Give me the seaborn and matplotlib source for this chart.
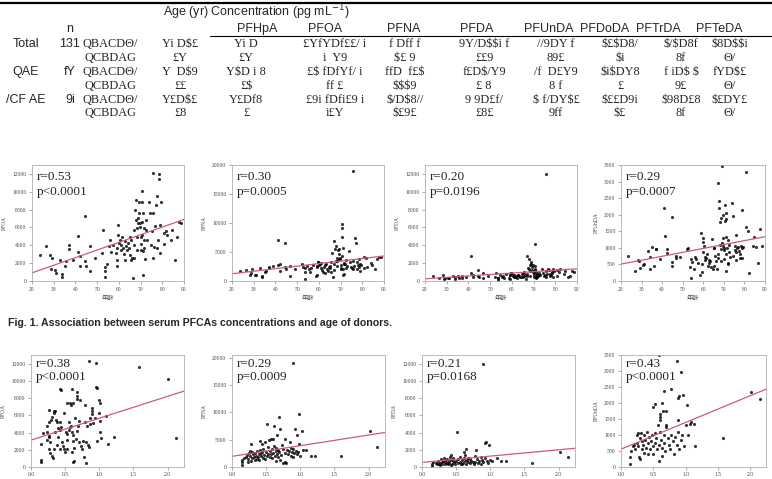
import matplotlib
matplotlib.use("Agg")
import matplotlib.pyplot as plt
import pandas as pd
import seaborn as sns
from matplotlib import font_manager

# ---- donors: age (yr) and serum PFCAs (pg/mL), top row of panels
age = [23.5, 26.6, 28.5, 29.0, 28.8, 30.8, 31.0, 33.0, 34.0, 34.0,
       35.0, 35.8, 37.0, 37.0, 39.0, 41.0, 41.2, 42.3, 42.3, 44.6,
       44.6, 44.8, 46.6, 46.6, 48.8, 52.3, 52.8, 53.4, 53.8, 53.8,
       54.6, 55.5, 55.8, 56.5, 57.4, 58.5, 59.0, 59.2, 59.2, 59.7,
       59.7, 60.0, 60.5, 60.8, 61.0, 61.5, 62.0, 62.3, 62.6, 63.0,
       63.4, 63.8, 64.3, 64.6, 65.0, 65.0, 65.4, 65.7, 66.2, 66.6,
       67.0, 67.0, 67.2, 67.4, 67.7, 68.0, 68.2, 68.5, 68.5, 68.8,
       69.0, 69.2, 69.4, 69.7, 69.7, 70.0, 70.0, 70.3, 70.5, 70.6,
       70.8, 70.8, 71.0, 71.2, 71.2, 71.5, 71.8, 71.8, 72.0, 72.5,
       72.5, 73.0, 73.8, 74.3, 74.6, 75.4, 75.5, 75.8, 75.8, 76.0,
       76.5, 77.0, 77.4, 77.7, 78.0, 78.5, 78.6, 78.9, 78.9, 79.5,
       80.8, 81.0, 81.5, 82.0, 84.0, 84.6, 85.7, 86.6, 87.7, 88.5]
pfoa = [2900, 3900, 2900, 2600, 1300, 1200, 950, 2400, 800, 450,
        1650, 2250, 4000, 3550, 2400, 5050, 3300, 2800, 1650, 7300,
        2200, 1650, 3900, 1100, 2600, 3150, 5700, 1600, 450, 1100,
        1950, 3900, 4650, 3250, 4000, 3100, 3750, 2350, 1650, 5150,
        6300, 4300, 4650, 3450, 4000, 4950, 3750, 3000, 2400, 4500,
        3900, 3450, 4300, 3750, 4950, 2950, 2400, 4600, 2600, 380,
        5700, 4000, 2600, 8000, 9100, 6850, 5900, 4900, 3450, 7050,
        6450, 7650, 8800, 6100, 6550, 4950, 4200, 3450, 6650, 10050,
        8900, 5150, 3400, 7650, 650, 4600, 5900, 3650, 2500, 6850,
        5700, 4650, 8800, 7650, 4000, 5650, 12050, 7600, 2600, 3850,
        6150, 8550, 9500, 3750, 4650, 12000, 11450, 6300, 3150, 8900,
        5350, 4100, 5550, 5150, 4600, 5700, 2400, 4950, 6650, 6550]
pfna = [1700, 1900, 1000, 2100, 1300, 1000, 1100, 2300, 700, 900,
        1500, 1800, 2200, 2400, 2600, 7000, 2700, 3000, 1700, 6550,
        2400, 2100, 2600, 900, 2000, 2900, 2500, 1500, 400, 2300,
        2600, 2100, 1600, 2200, 2700, 900, 2400, 1100, 2600, 3200,
        3300, 2700, 2900, 3100, 2200, 1900, 1600, 2400, 1400, 2800,
        3000, 2100, 1800, 2500, 2600, 2200, 1500, 3300, 4800, 700,
        6850, 2900, 1900, 5600, 6100, 3500, 4000, 3400, 2600, 5400,
        3600, 4700, 5600, 3900, 3800, 2200, 2700, 2000, 7600, 9750,
        9200, 4300, 2100, 5650, 1000, 3100, 2900, 1200, 3000, 3600,
        2300, 2600, 5100, 3200, 2500, 2200, 18950, 3500, 2000, 2600,
        7450, 6550, 3200, 2100, 2800, 3800, 2500, 3000, 1800, 2700,
        4100, 2300, 4000, 2400, 3100, 2700, 2000, 3800, 4100, 4200]
pfda = [600, 350, 700, 300, 250, 350, 300, 550, 200, 400,
        550, 350, 600, 350, 450, 2800, 900, 450, 650, 550,
        1250, 450, 850, 300, 600, 500, 950, 350, 150, 300,
        700, 400, 550, 350, 750, 300, 650, 250, 700, 850,
        900, 800, 600, 700, 500, 450, 550, 300, 650, 700,
        550, 400, 500, 750, 900, 450, 550, 1000, 650, 200,
        2850, 550, 800, 1500, 1300, 2450, 1800, 1100, 600, 1900,
        2100, 1600, 1200, 1800, 1000, 700, 900, 500, 1400, 4150,
        1700, 1200, 450, 1000, 300, 700, 800, 400, 600, 900,
        700, 650, 1300, 900, 600, 700, 12000, 1100, 500, 800,
        1400, 1200, 800, 550, 700, 1000, 900, 1300, 500, 1100,
        1200, 600, 1000, 1300, 800, 1100, 500, 600, 1100, 1000]
pfunda = [750, 300, 620, 400, 600, 480, 520, 900, 350, 720,
          1030, 450, 970, 980, 650, 2200, 1370, 850, 970, 1930,
          450, 580, 680, 750, 730, 960, 1000, 420, 100, 650,
          560, 350, 720, 650, 540, 190, 1450, 280, 500, 1300,
          1180, 880, 1050, 720, 620, 700, 820, 460, 640, 550,
          600, 420, 1280, 370, 990, 460, 1000, 760, 590, 350,
          2950, 810, 700, 2200, 2410, 1770, 1100, 980, 600, 1900,
          3470, 1150, 1300, 2000, 1050, 1000, 950, 650, 1800, 2300,
          1860, 1340, 800, 2060, 300, 1000, 1230, 500, 550, 1100,
          880, 720, 2360, 1960, 750, 950, 1050, 1380, 880, 640,
          1000, 1040, 900, 680, 800, 1050, 1000, 2130, 700, 1020,
          3300, 1620, 1510, 250, 1060, 1320, 1020, 540, 1570, 1050]

# ---- bottom row: (x, concentration) pairs
pfoa_pairs = [(0.85, 12280), (0.95, 12090), (1.58, 11630), (2.0, 10260), (2.13, 3350),
              (0.43, 9050), (0.44, 8900), (0.6, 9090), (0.68, 8670), (0.95, 9280), (0.96, 9160),
              (1.01, 7380), (0.99, 7760), (0.68, 8210), (0.68, 7900), (0.72, 7760), (0.79, 7150),
              (0.62, 7450), (0.57, 7380), (0.58, 7150), (0.52, 7450), (0.89, 6850), (0.9, 6500),
              (0.89, 6200), (0.87, 5740), (0.94, 5740), (0.91, 5100), (0.87, 4940), (0.79, 5170),
              (0.82, 4710), (1.0, 6310), (1.1, 5930), (1.01, 5360), (1.01, 4100), (1.03, 3350),
              (0.97, 2970), (1.21, 3460), (1.13, 2700), (0.76, 2970), (0.8, 2890), (0.83, 2590),
              (0.85, 2280), (0.77, 1180), (0.81, 420), (0.14, 2700), (0.14, 800), (0.14, 530),
              (0.17, 3950), (0.23, 4030), (0.27, 6620), (0.33, 6500), (0.35, 6500), (0.34, 6240),
              (0.31, 5860), (0.29, 5480), (0.27, 5170), (0.23, 4710), (0.26, 3570), (0.27, 3460),
              (0.23, 3080), (0.28, 2890), (0.27, 2050), (0.28, 1670), (0.31, 1290), (0.32, 1060),
              (0.34, 2130), (0.35, 4100), (0.39, 3460), (0.4, 4490), (0.43, 5170), (0.44, 4600),
              (0.45, 2890), (0.47, 2430), (0.48, 2130), (0.5, 1750), (0.52, 2130), (0.52, 3190),
              (0.53, 3840), (0.51, 4100), (0.55, 4330), (0.57, 4600), (0.55, 5170), (0.58, 4790),
              (0.6, 4100), (0.61, 3730), (0.62, 2970), (0.63, 2210), (0.6, 1750), (0.63, 680),
              (0.62, 530), (0.66, 3270), (0.67, 4220), (0.69, 4790), (0.71, 5360), (0.65, 5630),
              (0.49, 6240), (0.37, 5480), (0.38, 5170), (0.42, 4330), (0.71, 2890), (0.73, 2430),
              (0.74, 2130), (0.43, 2050), (0.38, 2590)]
pfna_pairs = [(0.89, 19000), (0.69, 9200), (0.98, 9700), (0.51, 7800), (0.61, 7500), (0.92, 7000),
              (0.71, 6900), (1.02, 6600), (2.02, 6500), (0.66, 5900), (0.6, 5100), (0.54, 5000),
              (0.95, 5900), (0.41, 4700), (0.44, 4250), (0.28, 4300), (0.98, 4300), (2.13, 3700),
              (0.78, 5100), (1.59, 2000), (1.22, 2100), (1.15, 2100), (1.09, 3100), (1.04, 3150),
              (0.14, 400), (0.14, 900), (0.15, 1300), (0.2, 1800), (0.22, 2200), (0.24, 1500),
              (0.25, 2500), (0.27, 2000), (0.28, 1100), (0.29, 2700), (0.3, 1600), (0.31, 2300),
              (0.32, 1900), (0.33, 1300), (0.34, 2600), (0.35, 2100), (0.36, 1500), (0.37, 2900),
              (0.38, 1800), (0.39, 2400), (0.4, 1200), (0.41, 3100), (0.42, 2000), (0.43, 2600),
              (0.45, 1700), (0.46, 3300), (0.47, 2200), (0.48, 1400), (0.5, 2800), (0.51, 2000),
              (0.52, 3600), (0.53, 2400), (0.55, 1800), (0.56, 2900), (0.57, 2300), (0.58, 3300),
              (0.59, 1600), (0.6, 2600), (0.62, 3900), (0.63, 2100), (0.64, 2900), (0.65, 3400),
              (0.66, 2400), (0.67, 1800), (0.68, 3100), (0.69, 2700), (0.7, 1300), (0.72, 2200),
              (0.74, 3300), (0.75, 800), (0.77, 1000), (0.78, 2600), (0.79, 700), (0.8, 3200),
              (0.82, 2300), (0.84, 2900), (0.86, 3500), (0.87, 2000), (0.88, 2700), (0.89, 3300),
              (0.9, 1900), (0.91, 2500), (0.93, 3000), (0.95, 2300), (0.97, 2700), (1.0, 2100),
              (0.23, 900), (0.18, 1700), (0.26, 3000), (0.44, 2800), (0.49, 4600), (0.57, 5200),
              (0.64, 1100), (0.73, 4000), (0.85, 4600)]
pfda_pairs = [(0.89, 12000), (0.51, 4100), (0.92, 2780), (0.94, 2850), (0.98, 2500), (0.65, 2130),
              (0.79, 1940), (0.43, 1370), (0.41, 1180), (0.61, 1750), (0.63, 1440), (2.02, 1710),
              (2.14, 1140), (1.61, 490), (1.23, 680), (1.16, 720), (1.1, 1060),
              (0.14, 150), (0.14, 350), (0.16, 600), (0.2, 450), (0.22, 300), (0.24, 700),
              (0.26, 500), (0.27, 250), (0.28, 900), (0.3, 400), (0.31, 650), (0.32, 1100),
              (0.33, 300), (0.34, 550), (0.35, 800), (0.36, 450), (0.37, 950), (0.38, 350),
              (0.39, 650), (0.4, 500), (0.42, 850), (0.44, 400), (0.45, 700), (0.46, 1000),
              (0.47, 550), (0.48, 300), (0.5, 750), (0.52, 450), (0.53, 900), (0.55, 600),
              (0.56, 1200), (0.57, 350), (0.58, 800), (0.6, 500), (0.62, 1000), (0.63, 700),
              (0.64, 400), (0.66, 850), (0.67, 600), (0.68, 1100), (0.7, 450), (0.72, 750),
              (0.74, 550), (0.76, 350), (0.78, 600), (0.8, 900), (0.82, 500), (0.84, 700),
              (0.86, 1200), (0.87, 400), (0.88, 800), (0.9, 600), (0.92, 1000), (0.95, 700),
              (0.97, 500), (1.0, 850), (1.02, 650), (0.25, 350), (0.29, 600), (0.43, 250),
              (0.59, 300), (0.71, 950), (0.77, 1300)]
pfunda_pairs = [(0.58, 3500), (0.87, 3300), (0.92, 2970), (0.77, 2440), (0.67, 2370), (2.01, 2340),
                (2.14, 2140), (0.88, 2170), (0.9, 2230), (0.96, 2240), (1.02, 1930), (0.52, 1960),
                (0.5, 1860), (0.63, 2010), (0.65, 1760), (0.69, 1760), (0.6, 1650), (0.6, 1550),
                (0.6, 1480), (0.88, 1480), (0.69, 1310), (1.07, 1340), (1.58, 900), (1.14, 660),
                (0.14, 80), (0.14, 320), (0.15, 500), (0.18, 650), (0.2, 700), (0.22, 550),
                (0.24, 750), (0.25, 1000), (0.26, 1050), (0.27, 650), (0.28, 300), (0.29, 900),
                (0.3, 250), (0.31, 1050), (0.32, 800), (0.33, 550), (0.34, 700), (0.35, 1000),
                (0.36, 450), (0.37, 850), (0.38, 600), (0.4, 1100), (0.41, 750), (0.42, 400),
                (0.44, 950), (0.45, 550), (0.46, 800), (0.48, 1000), (0.49, 650), (0.5, 400),
                (0.52, 1050), (0.53, 750), (0.54, 900), (0.56, 550), (0.57, 1300), (0.58, 180),
                (0.59, 700), (0.6, 1100), (0.62, 850), (0.63, 350), (0.64, 600), (0.66, 1000),
                (0.67, 750), (0.68, 500), (0.7, 1250), (0.72, 900), (0.74, 700), (0.76, 550),
                (0.78, 1000), (0.8, 800), (0.82, 400), (0.84, 950), (0.86, 700), (0.88, 1100),
                (0.9, 550), (0.92, 850), (0.95, 1000), (0.97, 650), (1.0, 1300), (1.04, 1000),
                (1.08, 1400), (1.12, 1350)]

stats_age = [("r=0.53", "p<0.0001"), ("r=0.30", "p=0.0005"),
             ("r=0.20", "p=0.0196"), ("r=0.29", "p=0.0007")]
stats_x2 = [("r=0.38", "p<0.0001"), ("r=0.29", "p=0.0009"),
            ("r=0.21", "p=0.0168"), ("r=0.43", "p<0.0001")]
compounds = ["PFOA", "PFNA", "PFDA", "PFUnDA"]
yticks = [list(range(0, 12001, 2000)), list(range(0, 20001, 5000)),
          list(range(0, 12001, 2000)), list(range(0, 3501, 500))]
ytops = [13000, 20000, 13000, 3500]

# ---- table text (as printed, font-mangled in the source)
table_title = "Age (yr) Concentration (pg mL$^{-1}$)"
table_cols = ["PFHpA", "PFOA", "PFNA", "PFDA", "PFUnDA", "PFDoDA", "PFTrDA", "PFTeDA"]
table_rows = [
    ["Total", "131", "QBACD\u0398/", "Yi D$\u00a3", "Yi D", "\u00a3YfYDf\u00a3\u00a3/ i", "f Dff f",
     "9Y/D$$i f", "//9DY f", "$\u00a3$D8/", "$/$D8f", "$8D$$i"],
    ["", "", "QCBDAG", "\u00a3Y", "\u00a3Y", "i  Y9", "$\u00a3 9", "\u00a3\u00a39", "89\u00a3", "$i", "8f", "\u0398/"],
    ["QAE", "fY", "QBACD\u0398/", "Y  D$9", "Y$D i 8", "\u00a3$ fDfYf/ i", "ffD  f\u00a3$",
     "f\u00a3D$/Y9", "/f  D\u00a3Y9", "$i$DY8", "f iD$ $", "fYD$\u00a3"],
    ["", "", "QCBDAG", "\u00a3\u00a3", "\u00a3$", "ff \u00a3", "$$$9", "\u00a3 8", "8 f", "\u00a3", "9\u00a3", "\u0398/"],
    ["/CF AE", "9i", "QBACD\u0398/", "Y\u00a3D$\u00a3", "Y\u00a3Df8", "\u00a39i fDfi\u00a39 i", "$/D$8//",
     "9 9D\u00a3f/", "$ f/DY$\u00a3", "$\u00a3\u00a3D9i", "$98D\u00a38", "$\u00a3DY\u00a3"],
    ["", "", "QCBDAG", "\u00a38", "\u00a3", "i\u00a3Y", "$\u00a39\u00a3", "\u00a38\u00a3", "9ff", "$\u00a3", "8f", "\u0398/"],
]
caption = "Fig. 1. Association between serum PFCAs concentrations and age of donors."

sns.set_theme(style="white")
plt.rcParams["font.family"] = ["Liberation Serif", "DejaVu Serif"]

names = {f.name for f in font_manager.fontManager.ttflist}
narrow = "Liberation Sans Narrow" in names
sans = ["Liberation Sans Narrow", "Liberation Sans"] if narrow else ["Liberation Sans"]

W, H = 772, 479
fig = plt.figure(figsize=(W / 100, H / 100), dpi=100)


def px_axes(left, top, right, bottom):
    return fig.add_axes([left / W, 1 - bottom / H, (right - left) / W, (bottom - top) / H])


def fy(y):
    return 1 - y / H


# ---- table
fig.add_artist(plt.Line2D([0, 1], [fy(3), fy(3)], color="black", lw=1.6))
fig.add_artist(plt.Line2D([210 / W, 1], [fy(36), fy(36)], color="black", lw=0.8))
head_size = 10.2 if narrow else 9.0
fig.text(163 / W, fy(12.5), table_title, family=sans, fontsize=head_size, va="center", ha="left")
fig.text(70 / W, fy(29), "n", family=sans, fontsize=head_size, va="center", ha="center")
col_x = [257, 325, 404, 477, 549, 605, 658, 719]
for name, x in zip(table_cols, col_x):
    fig.text(x / W, fy(29), name, family=sans, fontsize=head_size, va="center", ha="center")
val_x = [26, 70, 110, 180, 246, 335, 405, 484, 556, 620, 681, 730]
row_y = [44, 58, 72, 86, 100, 113]
for y, row in zip(row_y, table_rows):
    for j, (x, s) in enumerate(zip(val_x, row)):
        if not s:
            continue
        fam = sans if j < 2 else ["Liberation Serif", "DejaVu Serif"]
        fig.text(x / W, fy(y), s, family=fam, fontsize=head_size if j < 2 else 8.8,
                 va="center", ha="center", parse_math=False)

fig.text(8 / W, fy(323), caption, family=sans, fontweight="bold",
         fontsize=9.2 if narrow else 7.6, va="center", ha="left")

# ---- scatter panels
row1_left = [32, 232, 425, 621]
row2_left = [31, 232, 422, 621]
widths = [152, 152, 152, 144]
df_age = pd.DataFrame({"age": age, "PFOA": pfoa, "PFNA": pfna, "PFDA": pfda, "PFUnDA": pfunda})
pairs = [pfoa_pairs, pfna_pairs, pfda_pairs, pfunda_pairs]


def style(ax, ylab, ticks, ytop):
    ax.set_ylim(0, ytop)
    ax.set_yticks(ticks)
    for sp in ax.spines.values():
        sp.set_visible(True)
        sp.set_color("#b0b0b0")
        sp.set_linewidth(0.6)
    ax.tick_params(axis="both", which="both", direction="out", length=2.5, width=0.5,
                   color="#888888", labelsize=4, labelcolor="#444444", pad=1.5,
                   bottom=True, left=True)
    ax.set_ylabel(ylab, fontsize=4, color="#444444", labelpad=4)
    ax.grid(False)


line_kw = dict(color="#cf5a74", lw=0.9)
dot_kw = dict(s=5, color="black", linewidths=0)

for i, comp in enumerate(compounds):
    ax = px_axes(row1_left[i], 165, row1_left[i] + widths[i], 281)
    ax.set_xlim(20, 90)
    sns.regplot(data=df_age, x="age", y=comp, ax=ax, ci=None, truncate=False,
                scatter_kws=dot_kw, line_kws=line_kw)
    style(ax, comp, yticks[i], ytops[i])
    ax.set_xticks(range(20, 91, 10))
    ax.set_xlabel("年龄", family=["Noto Sans CJK SC", "DejaVu Sans"], fontsize=4.5,
                  color="#444444", labelpad=2)
    ax.text(0.03, 0.895, stats_age[i][0], transform=ax.transAxes, fontsize=9.5, va="center")
    ax.text(0.03, 0.765, stats_age[i][1], transform=ax.transAxes, fontsize=9.5, va="center")

    d2 = pd.DataFrame(pairs[i], columns=["x2", comp])
    ax2 = px_axes(row2_left[i], 355, row2_left[i] + widths[i] + 1, 467)
    ax2.set_xlim(0, 2.24)
    sns.regplot(data=d2, x="x2", y=comp, ax=ax2, ci=None, truncate=False,
                scatter_kws=dot_kw, line_kws=line_kw)
    style(ax2, comp, yticks[i], ytops[i] if i != 1 else 20500)
    ax2.set_xticks([0, 0.5, 1.0, 1.5, 2.0])
    ax2.set_xticklabels(["0.0", "0.5", "1.0", "1.5", "2.0"])
    ax2.tick_params(axis="x", pad=1)
    ax2.set_xlabel("")
    ax2.text(0.03, 0.92, stats_x2[i][0], transform=ax2.transAxes, fontsize=9.5, va="center")
    ax2.text(0.03, 0.80, stats_x2[i][1], transform=ax2.transAxes, fontsize=9.5, va="center")

fig.savefig("out.png", dpi=100)
